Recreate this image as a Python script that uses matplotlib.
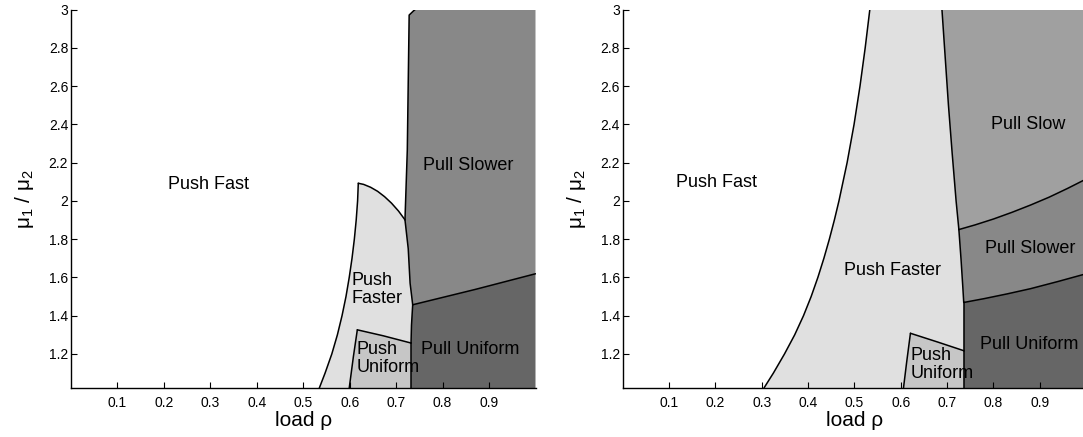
import matplotlib
matplotlib.use('Agg')
import matplotlib.pyplot as plt
import numpy as np

plt.rcParams['font.family'] = ['Liberation Sans', 'DejaVu Sans']
plt.rcParams['mathtext.fontset'] = 'custom'
plt.rcParams['mathtext.rm'] = 'Liberation Sans'
plt.rcParams['mathtext.it'] = 'Liberation Sans'

YMIN, YMAX = 1.022, 3.0
X_TICKS = [0.1, 0.2, 0.3, 0.4, 0.5, 0.6, 0.7, 0.8, 0.9]
Y_TICKS = [1.2, 1.4, 1.6, 1.8, 2.0, 2.2, 2.4, 2.6, 2.8, 3.0]
Y_TICK_LABELS = ['1.2', '1.4', '1.6', '1.8', '2', '2.2', '2.4', '2.6', '2.8', '3']

# couleurs des regions
C_FASTER = '#e0e0e0'
C_UNIFORM_PUSH = '#c6c6c6'
C_SLOW = '#a0a0a0'
C_SLOWER = '#888888'
C_UNIFORM_PULL = '#666666'

# ---- panneau gauche : frontieres ----
L_FASTER_LEFT_X = [0.5346, 0.547, 0.5615, 0.5735, 0.5835, 0.592, 0.599,
                   0.605, 0.610, 0.614, 0.617, 0.6185]
L_FASTER_LEFT_Y = [YMIN, 1.1, 1.2, 1.3, 1.4, 1.5, 1.6, 1.7, 1.8, 1.9, 2.0, 2.092]
L_FASTER_TOP_X = [0.6185, 0.63, 0.645, 0.66, 0.675, 0.69, 0.705, 0.719]
L_FASTER_TOP_Y = [2.092, 2.086, 2.071, 2.050, 2.022, 1.988, 1.947, 1.901]
L_PULL_TOP_X = [0.741, 0.737, 0.728, 0.724, 0.719]
L_PULL_TOP_Y = [3.0, 2.992, 2.971, 2.266, 1.901]
L_PULL_MID_X = [0.719, 0.726, 0.730, 0.7335, 0.7356]
L_PULL_MID_Y = [1.901, 1.75, 1.570, 1.50, 1.457]
L_PULL_LOW_X = [0.7356, 0.733, 0.732]
L_PULL_LOW_Y = [1.457, 1.35, 1.257]
L_PULL_BOT_X = [0.732, 0.732]
L_PULL_BOT_Y = [1.257, YMIN]
L_DIVIDE_X = [0.7356, 0.87, 1.0]
L_DIVIDE_Y = [1.457, 1.537, 1.619]
L_UNIF_LEFT_X = [0.599, 0.608, 0.6164]
L_UNIF_LEFT_Y = [YMIN, 1.187, 1.326]
L_UNIF_TOP_X = [0.6164, 0.672, 0.732]
L_UNIF_TOP_Y = [1.326, 1.295, 1.257]

# ---- panneau droit ----
R_FASTER_LEFT_X = [0.305, 0.3253, 0.3493, 0.3713, 0.3903, 0.4068, 0.4213, 0.4343,
                   0.4461, 0.4569, 0.4668, 0.4844, 0.4994, 0.5122, 0.5234, 0.5334]
R_FASTER_LEFT_Y = [YMIN, 1.1, 1.2, 1.3, 1.4, 1.5, 1.6, 1.7,
                   1.8, 1.9, 2.0, 2.2, 2.4, 2.6, 2.8, 3.0]
R_PULL_TOP_X = [0.689, 0.696, 0.703, 0.711, 0.7195, 0.7255]
R_PULL_TOP_Y = [3.0, 2.75, 2.5, 2.25, 2.0, 1.850]
R_PULL_MID_X = [0.7255, 0.730, 0.734, 0.736]
R_PULL_MID_Y = [1.850, 1.7, 1.55, 1.469]
R_PULL_LOW_X = [0.736, 0.736]
R_PULL_LOW_Y = [1.469, 1.217]
R_PULL_BOT_X = [0.736, 0.736]
R_PULL_BOT_Y = [1.217, YMIN]
R_SLOW_DIV_X = [0.7255, 0.76, 0.80, 0.84, 0.88, 0.92, 0.96, 1.0]
R_SLOW_DIV_Y = [1.850, 1.874, 1.905, 1.940, 1.978, 2.019, 2.065, 2.114]
R_SLOWER_DIV_X = [0.736, 0.78, 0.83, 0.88, 0.94, 1.0]
R_SLOWER_DIV_Y = [1.469, 1.489, 1.514, 1.541, 1.579, 1.619]
R_UNIF_LEFT_X = [0.606, 0.613, 0.621]
R_UNIF_LEFT_Y = [YMIN, 1.16, 1.308]
R_UNIF_TOP_X = [0.621, 0.68, 0.736]
R_UNIF_TOP_Y = [1.308, 1.262, 1.217]

# etiquettes : (texte, x, y, alignement)
L_LABELS = [('Push Fast', 0.296, 2.084, 'center'),
            ('Pull Slower', 0.855, 2.183, 'center'),
            ('Push\nFaster', 0.604, 1.538, 'left'),
            ('Push\nUniform', 0.615, 1.175, 'left'),
            ('Pull Uniform', 0.859, 1.222, 'center')]
R_LABELS = [('Push Fast', 0.202, 2.098, 'center'),
            ('Pull Slow', 0.874, 2.401, 'center'),
            ('Pull Slower', 0.880, 1.749, 'center'),
            ('Push Faster', 0.582, 1.635, 'center'),
            ('Push\nUniform', 0.622, 1.146, 'left'),
            ('Pull Uniform', 0.878, 1.247, 'center')]


def seg(xs, ys, reverse=False):
    pts = np.column_stack([xs, ys])
    return pts[::-1] if reverse else pts


def poly(*parts):
    return np.vstack(parts)


def draw_region(ax, pts, color):
    ax.fill(pts[:, 0], pts[:, 1], color=color, lw=0, zorder=1)


def draw_line(ax, xs, ys):
    ax.plot(xs, ys, color='black', lw=1.1, zorder=3,
            solid_capstyle='round', solid_joinstyle='round')


def style_axes(ax, labels):
    ax.set_xlim(0, 1)
    ax.set_ylim(YMIN, YMAX)
    ax.set_xticks(X_TICKS)
    ax.set_xticklabels([f'{t:g}' for t in X_TICKS])
    ax.set_yticks(Y_TICKS)
    ax.set_yticklabels(Y_TICK_LABELS)
    ax.tick_params(direction='in', length=4, width=0.8, labelsize=10)
    ax.tick_params(axis='x', pad=6)
    ax.tick_params(axis='y', pad=2)
    for s in ['top', 'right']:
        ax.spines[s].set_visible(False)
    for s in ['left', 'bottom']:
        ax.spines[s].set_linewidth(1.0)
        ax.spines[s].set_zorder(5)
    ax.set_xlabel('load ρ', fontsize=15)
    ax.set_ylabel('μ$_1$ / μ$_2$', fontsize=15)
    ax.xaxis.set_label_coords(0.5, -0.062)
    ax.yaxis.set_label_coords(-0.075, 0.5)
    for txt, x, y, ha in labels:
        ax.text(x, y, txt, ha=ha, va='center', fontsize=13, zorder=4,
                linespacing=1.05)


def panneau_gauche(ax):
    faster = poly(seg(L_FASTER_LEFT_X, L_FASTER_LEFT_Y),
                  seg(L_FASTER_TOP_X, L_FASTER_TOP_Y),
                  seg(L_PULL_MID_X, L_PULL_MID_Y),
                  seg(L_PULL_LOW_X, L_PULL_LOW_Y),
                  seg(L_PULL_BOT_X, L_PULL_BOT_Y))
    unif = poly(seg(L_UNIF_LEFT_X, L_UNIF_LEFT_Y),
                seg(L_UNIF_TOP_X, L_UNIF_TOP_Y),
                seg(L_PULL_BOT_X, L_PULL_BOT_Y))
    slower = poly(seg(L_PULL_TOP_X, L_PULL_TOP_Y),
                  seg(L_PULL_MID_X, L_PULL_MID_Y),
                  seg(L_DIVIDE_X, L_DIVIDE_Y),
                  [[1.0, 3.0]])
    pull_unif = poly(seg(L_PULL_LOW_X, L_PULL_LOW_Y),
                     seg(L_PULL_BOT_X, L_PULL_BOT_Y),
                     [[1.0, YMIN]],
                     seg(L_DIVIDE_X, L_DIVIDE_Y, reverse=True))
    draw_region(ax, faster, C_FASTER)
    draw_region(ax, unif, C_UNIFORM_PUSH)
    draw_region(ax, slower, C_SLOWER)
    draw_region(ax, pull_unif, C_UNIFORM_PULL)
    for xs, ys in [(L_FASTER_LEFT_X, L_FASTER_LEFT_Y), (L_FASTER_TOP_X, L_FASTER_TOP_Y),
                   (L_PULL_TOP_X, L_PULL_TOP_Y), (L_PULL_MID_X, L_PULL_MID_Y),
                   (L_PULL_LOW_X, L_PULL_LOW_Y), (L_PULL_BOT_X, L_PULL_BOT_Y),
                   (L_DIVIDE_X, L_DIVIDE_Y), (L_UNIF_LEFT_X, L_UNIF_LEFT_Y),
                   (L_UNIF_TOP_X, L_UNIF_TOP_Y)]:
        draw_line(ax, xs, ys)
    style_axes(ax, L_LABELS)


def panneau_droit(ax):
    faster = poly(seg(R_FASTER_LEFT_X, R_FASTER_LEFT_Y),
                  seg(R_PULL_TOP_X, R_PULL_TOP_Y),
                  seg(R_PULL_MID_X, R_PULL_MID_Y),
                  seg(R_PULL_LOW_X, R_PULL_LOW_Y),
                  seg(R_PULL_BOT_X, R_PULL_BOT_Y))
    unif = poly(seg(R_UNIF_LEFT_X, R_UNIF_LEFT_Y),
                seg(R_UNIF_TOP_X, R_UNIF_TOP_Y),
                seg(R_PULL_BOT_X, R_PULL_BOT_Y))
    slow = poly(seg(R_PULL_TOP_X, R_PULL_TOP_Y),
                seg(R_SLOW_DIV_X, R_SLOW_DIV_Y),
                [[1.0, 3.0]])
    slower = poly(seg(R_PULL_MID_X, R_PULL_MID_Y),
                  seg(R_SLOWER_DIV_X, R_SLOWER_DIV_Y),
                  seg(R_SLOW_DIV_X, R_SLOW_DIV_Y, reverse=True))
    pull_unif = poly(seg(R_PULL_LOW_X, R_PULL_LOW_Y),
                     seg(R_PULL_BOT_X, R_PULL_BOT_Y),
                     [[1.0, YMIN]],
                     seg(R_SLOWER_DIV_X, R_SLOWER_DIV_Y, reverse=True))
    draw_region(ax, faster, C_FASTER)
    draw_region(ax, unif, C_UNIFORM_PUSH)
    draw_region(ax, slow, C_SLOW)
    draw_region(ax, slower, C_SLOWER)
    draw_region(ax, pull_unif, C_UNIFORM_PULL)
    for xs, ys in [(R_FASTER_LEFT_X, R_FASTER_LEFT_Y), (R_PULL_TOP_X, R_PULL_TOP_Y),
                   (R_PULL_MID_X, R_PULL_MID_Y), (R_PULL_LOW_X, R_PULL_LOW_Y),
                   (R_PULL_BOT_X, R_PULL_BOT_Y), (R_SLOW_DIV_X, R_SLOW_DIV_Y),
                   (R_SLOWER_DIV_X, R_SLOWER_DIV_Y), (R_UNIF_LEFT_X, R_UNIF_LEFT_Y),
                   (R_UNIF_TOP_X, R_UNIF_TOP_Y)]:
        draw_line(ax, xs, ys)
    style_axes(ax, R_LABELS)


fig = plt.figure(figsize=(10.83, 4.37), dpi=100)
ax1 = fig.add_axes([71 / 1083, 49 / 437, 464.5 / 1083, 378.5 / 437])
ax2 = fig.add_axes([622.6 / 1083, 49 / 437, 463.5 / 1083, 378.5 / 437])
panneau_gauche(ax1)
panneau_droit(ax2)
fig.savefig('out.png', dpi=100)
